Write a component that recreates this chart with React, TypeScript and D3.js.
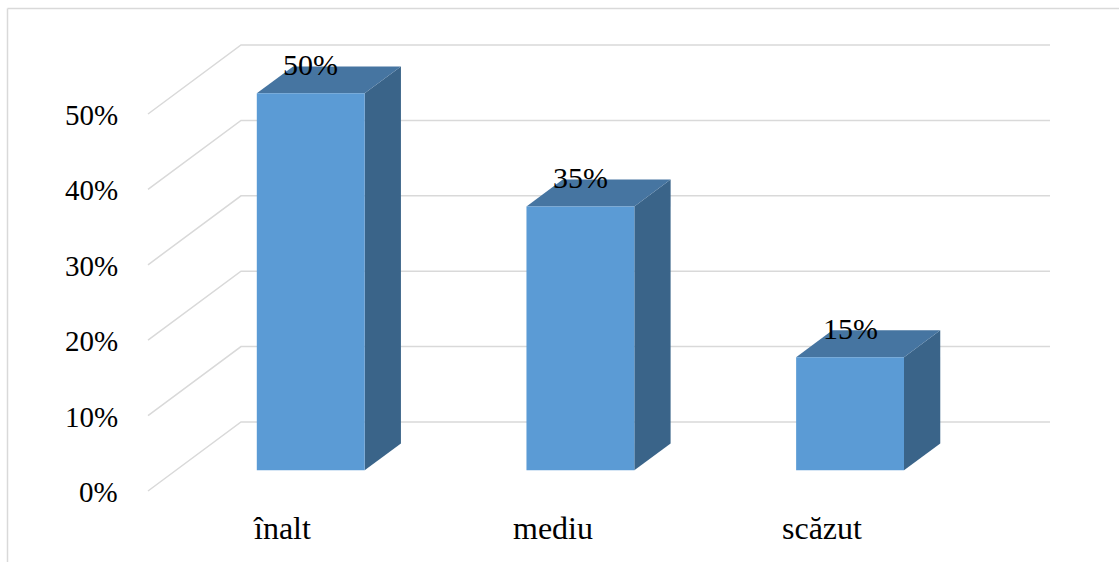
import React from "react";
import * as d3 from "d3";

// Share of respondents per level
const categories: string[] = ["înalt", "mediu", "scăzut"];
const values: number[] = [0.5, 0.35, 0.15];
const tickValues: number[] = [0, 0.1, 0.2, 0.3, 0.4, 0.5];

const W = 1119;
const H = 562;

// Front plane of the 3D box and the depth vector pointing to the back wall
const FRONT_LEFT = 148;
const FRONT_RIGHT = 957;
const DEPTH_X = 93;
const DEPTH_Y = -69;
const BAR_D0 = 0.3;
const BAR_D1 = 0.69;

const SERIF = "Liberation Serif";
const GRID = "#D9D9D9";
const FRONT_FILL = "#5B9BD5";
const TOP_FILL = "#4675A1";
const SIDE_FILL = "#3A6489";

// text width in the serif face, used to place start-anchored labels
let measureCtx: CanvasRenderingContext2D | null = null;
function textWidth(s: string, size: number): number {
  if (!measureCtx && typeof document !== "undefined") {
    measureCtx = document.createElement("canvas").getContext("2d");
  }
  if (measureCtx) {
    measureCtx.font = `${size}px "${SERIF}"`;
    return measureCtx.measureText(s).width;
  }
  return s.length * size * 0.5;
}

function Label(props: {
  x: number;
  y: number;
  size: number;
  anchor: "start" | "middle" | "end";
  children: string;
}) {
  const { x, y, size, anchor, children } = props;
  const w = textWidth(children, size);
  const left = anchor === "end" ? x - w : anchor === "middle" ? x - w / 2 : x;
  return (
    <text
      x={Math.round(left)}
      y={Math.round(y)}
      fontSize={size}
      fontFamily={SERIF}
      fill="#000"
      style={{ fontFamily: SERIF }}
    >
      {children}
    </text>
  );
}

export default function App() {
  const y = d3.scaleLinear().domain([0, 0.5]).range([491, 114]);
  const x = d3
    .scaleBand<string>()
    .domain(categories)
    .range([FRONT_LEFT, FRONT_RIGHT])
    .paddingInner(0.6)
    .paddingOuter(0.3);
  const pct = d3.format(".0%");

  // project a point on the front plane into depth d (0 = front, 1 = back wall)
  const P = (px: number, py: number, d: number): [number, number] => [
    px + d * DEPTH_X,
    py + d * DEPTH_Y,
  ];
  const poly = (pts: [number, number][]) => pts.map((p) => p.join(",")).join(" ");

  return (
    <svg
      width={W}
      height={H}
      style={{ position: "absolute", left: 0, top: 0, fontFamily: SERIF }}
    >
      {/* chart frame */}
      <line x1={7.5} y1={8.5} x2={W} y2={8.5} stroke={GRID} strokeWidth={1.5} />
      <line x1={7.5} y1={8.5} x2={7.5} y2={H} stroke={GRID} strokeWidth={1.5} />

      {/* gridlines: side wall diagonal + back wall horizontal */}
      {tickValues.map((t) => {
        const [bx, by] = P(FRONT_LEFT, y(t), 1);
        const [ex] = P(FRONT_RIGHT, y(t), 1);
        return (
          <polyline
            key={t}
            points={poly([
              [FRONT_LEFT, y(t)],
              [bx, by],
              [ex, by],
            ])}
            fill="none"
            stroke={GRID}
            strokeWidth={1.5}
          />
        );
      })}

      {/* bars */}
      {categories.map((c, i) => {
        const x0 = x(c)!;
        const x1 = x0 + x.bandwidth();
        const yb = y(0);
        const yt = y(values[i]);
        const fbl = P(x0, yb, BAR_D0);
        const fbr = P(x1, yb, BAR_D0);
        const ftl = P(x0, yt, BAR_D0);
        const ftr = P(x1, yt, BAR_D0);
        const btl = P(x0, yt, BAR_D1);
        const btr = P(x1, yt, BAR_D1);
        const bbr = P(x1, yb, BAR_D1);
        return (
          <g key={c}>
            <polygon points={poly([fbr, ftr, btr, bbr])} fill={SIDE_FILL} />
            <polygon points={poly([ftl, ftr, btr, btl])} fill={TOP_FILL} />
            <polygon points={poly([fbl, fbr, ftr, ftl])} fill={FRONT_FILL} />
          </g>
        );
      })}

      {/* value axis labels */}
      {tickValues.map((t) => (
        <Label key={t} x={118} y={y(t) + 11} size={29} anchor="end">
          {pct(t)}
        </Label>
      ))}

      {/* value labels sitting on the back edge of each bar top */}
      {categories.map((c, i) => {
        const cx = x(c)! + x.bandwidth() / 2 + BAR_D0 * DEPTH_X;
        const yTopBack = y(values[i]) + BAR_D1 * DEPTH_Y;
        return (
          <Label key={c} x={cx} y={yTopBack + 9} size={30} anchor="middle">
            {pct(values[i])}
          </Label>
        );
      })}

      {/* category labels on the front floor edge */}
      {categories.map((c) => (
        <Label key={c} x={x(c)! + x.bandwidth() / 2} y={539} size={32} anchor="middle">
          {c}
        </Label>
      ))}
    </svg>
  );
}
